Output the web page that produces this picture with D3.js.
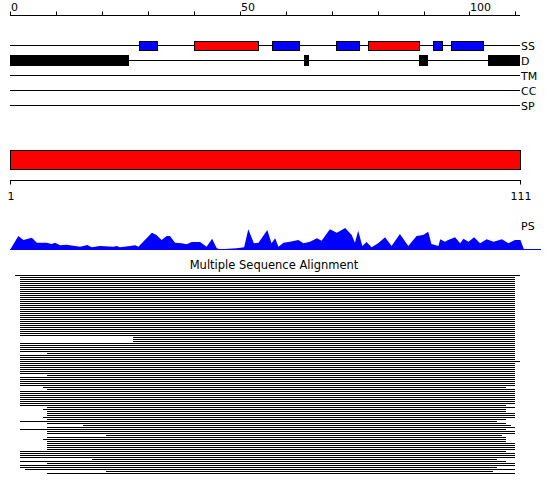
<!DOCTYPE html>
<html><head><meta charset="utf-8">
<script src="https://cdn.jsdelivr.net/npm/d3@7"></script>
<style>html,body{margin:0;padding:0;background:#fff;}svg{display:block;}text{font-family:"DejaVu Sans",sans-serif;}</style>
</head><body>
<svg id="c" width="550" height="495"></svg>
<script>
// ---- data ----
const topTicks = [0,10,20,30,40,50,60,70,80,90,100,110];
const topLabels = [0,50,100];
const trackNames = ["SS","D","TM","CC","SP"];
const ssStart = [28,40,57,71,78,92,96];
const ssEnd   = [32,54,63,76,89,94,103];
const ssType  = ["E","H","E","E","H","E","E"];
const disStart = [0,64,89,104];
const disEnd   = [26,65,91,111];
const domStart = [1];
const domEnd = [111];
const bottomTicks = [1,111];
const psPos = [1,2.8,3.9,5.7,6.8,8.9,10,10.7,11.8,13.2,16.1,17.7,18.6,20.4,23.3,24,24.7,26.9,28,28.7,31.6,32.6,33.7,34.8,35.5,36.6,38,39.1,40.2,42,43.4,44.6,45.6,46.3,49.9,51.5,52.4,53.6,54.6,56.5,57.4,58.2,58.9,60,61.4,63.2,64.3,65.7,67.2,68.2,70,71.5,73.3,74.7,75.4,76.1,77,77.9,79,80.4,81.9,83.3,85.1,86.9,88.7,90.1,91.2,91.9,93.4,93.8,94.8,95.5,97,98.1,98.8,99.9,101.1,102.4,103.8,105.3,107.1,108.5,109.9,111.1,111.9];
const psVal = [0,14,10,12.3,7.3,7.3,6,7.3,4.7,5.3,3.3,5,2.7,4,3.3,4,2.7,4,4.7,3.3,17.3,15,10,14,14,7.3,6.7,5.7,8,8,3.3,11.3,1.7,0.7,1.7,2.7,20.7,6.7,7.3,20,6.7,11.7,3.3,7.3,8.3,10,6.7,8.3,11.7,9.3,20.7,17.3,22,15,7.3,19.3,4,8,2.7,6.7,12.7,4,16,4,14,15,18.3,6,4,10.7,8.3,10,12.7,6.7,11.3,8.3,12.7,6.7,10.7,8.3,10.7,6.7,10,10,0];
const msaTitle = "Multiple Sequence Alignment";
const msaStart = [0,1,1,1,1,1,1,1,1,1, 1,1,1,1,1,1,1,1,1,1, 1,1,1,1,1,1,1,1,1,1, 1,26,26,26,1,1,1,1,1,7, 1,1,1,1,1,1,1,1,1,1, 7,1,1,1,1,1,6,7,1,1, 1,1,1,1,1,1,7,6,7,7, 7,6,7,1,7,15,7,1,7,7, 20,7,6,7,7,7,7,7,1,1, 1,1,17,1,7,1,1,2,20,7];
const msaEnd = [112,111,111,111,111,111,111,111,111,111, 111,111,111,111,111,111,111,111,111,111, 111,111,111,111,111,111,111,111,111,111, 111,111,111,111,111,111,111,111,111,111, 111,111,111,112,111,111,111,111,111,111, 111,111,111,111,111,111,109,111,111,111, 111,111,111,111,111,109,111,109,109,111, 111,111,109,107,109,110,111,109,111,111, 108,109,109,109,111,111,111,111,109,111, 111,111,107,109,111,111,107,111,106,111];

// ---- drawing ----
const svg = d3.select("#c");
const x = d3.scaleLinear().domain([0,111]).range([10,520]);
const xb = d3.scaleLinear().domain([1,111]).range([10,520]);
const xm = d3.scaleLinear().domain([1,111]).range([20,515]);
const FS = "11px";

// top axis
const gTop = svg.append("g").attr("transform","translate(0,15.5)");
gTop.append("line").attr("x1",x(0)).attr("x2",x(111)).attr("stroke","#000");
gTop.selectAll("line.t").data(topTicks).join("line").attr("class","t")
  .attr("x1",d=>Math.round(x(d))+0.5).attr("x2",d=>Math.round(x(d))+0.5).attr("y1",0).attr("y2",-4).attr("stroke","#000");
gTop.selectAll("text").data(topLabels).join("text")
  .attr("x",d=>Math.round(x(d))+1).attr("y",-5).attr("font-size",FS).text(d=>d);

// tracks
const trackY = d3.scalePoint().domain(trackNames).range([45,105]);
const gT = svg.append("g");
gT.selectAll("line").data(trackNames).join("line")
  .attr("x1",x(0)).attr("x2",x(111)).attr("y1",d=>trackY(d)+0.5).attr("y2",d=>trackY(d)+0.5).attr("stroke","#000");
gT.selectAll("text").data(trackNames).join("text")
  .attr("x",x(111)+1).attr("y",d=>trackY(d)+4.5).attr("font-size",FS).text(d=>d);

const ssColor = {E:"#0000ff",H:"#ff0000"};
svg.append("g").selectAll("rect").data(ssStart.map((s,i)=>({s,e:ssEnd[i],t:ssType[i]}))).join("rect")
  .attr("x",d=>Math.round(x(d.s))+0.5).attr("width",d=>Math.round(x(d.e))-Math.round(x(d.s)))
  .attr("y",trackY("SS")-3.5).attr("height",9)
  .attr("fill",d=>ssColor[d.t]).attr("stroke","#000");
svg.append("g").selectAll("rect").data(disStart.map((s,i)=>({s,e:disEnd[i]}))).join("rect")
  .attr("x",d=>Math.round(x(d.s))).attr("width",d=>Math.round(x(d.e))-Math.round(x(d.s)))
  .attr("y",trackY("D")-5).attr("height",11).attr("fill","#000");

// domain bar
svg.append("g").selectAll("rect").data(domStart.map((s,i)=>({s,e:domEnd[i]}))).join("rect")
  .attr("x",d=>xb(d.s)+0.5).attr("width",d=>xb(d.e)-xb(d.s)).attr("y",150.5).attr("height",19)
  .attr("fill","#ff0000").attr("stroke","#000");

// bottom axis
const gB = svg.append("g").attr("transform","translate(0,180.5)");
gB.append("line").attr("x1",xb(1)).attr("x2",xb(111)+1).attr("stroke","#000");
gB.selectAll("line.t").data(bottomTicks).join("line").attr("class","t")
  .attr("x1",d=>Math.round(xb(d))+0.5).attr("x2",d=>Math.round(xb(d))+0.5).attr("y1",0).attr("y2",4).attr("stroke","#000");
gB.selectAll("text").data(bottomTicks).join("text")
  .attr("x",d=>xb(d)+1).attr("y",19.5).attr("text-anchor","middle").attr("font-size",FS).text(d=>d);

// PS profile
const yps = d3.scaleLinear().domain([0,25]).range([250,225]);
const area = d3.area().x(d=>xb(d[0])).y0(yps(0)).y1(d=>yps(d[1]));
svg.append("path").datum(psPos.map((p,i)=>[p,psVal[i]])).attr("d",area).attr("fill","#0000ff");
svg.append("line").attr("x1",xb(1)).attr("x2",541).attr("y1",249.5).attr("y2",249.5).attr("stroke","#0000ff");
svg.append("text").attr("x",xb(111)+1).attr("y",230).attr("font-size",FS).text("PS");

// MSA
svg.append("text").attr("x",274).attr("y",269).attr("text-anchor","middle").attr("font-size","11.5px").text(msaTitle);
svg.append("g").attr("shape-rendering","crispEdges").selectAll("rect").data(msaStart.map((s,i)=>({s,e:msaEnd[i],i}))).join("rect")
  .attr("x",d=>Math.round(xm(d.s))).attr("width",d=>Math.round(xm(d.e))-Math.round(xm(d.s)))
  .attr("y",d=>275+2*d.i).attr("height",1).attr("fill","#000");
</script>
</body></html>
